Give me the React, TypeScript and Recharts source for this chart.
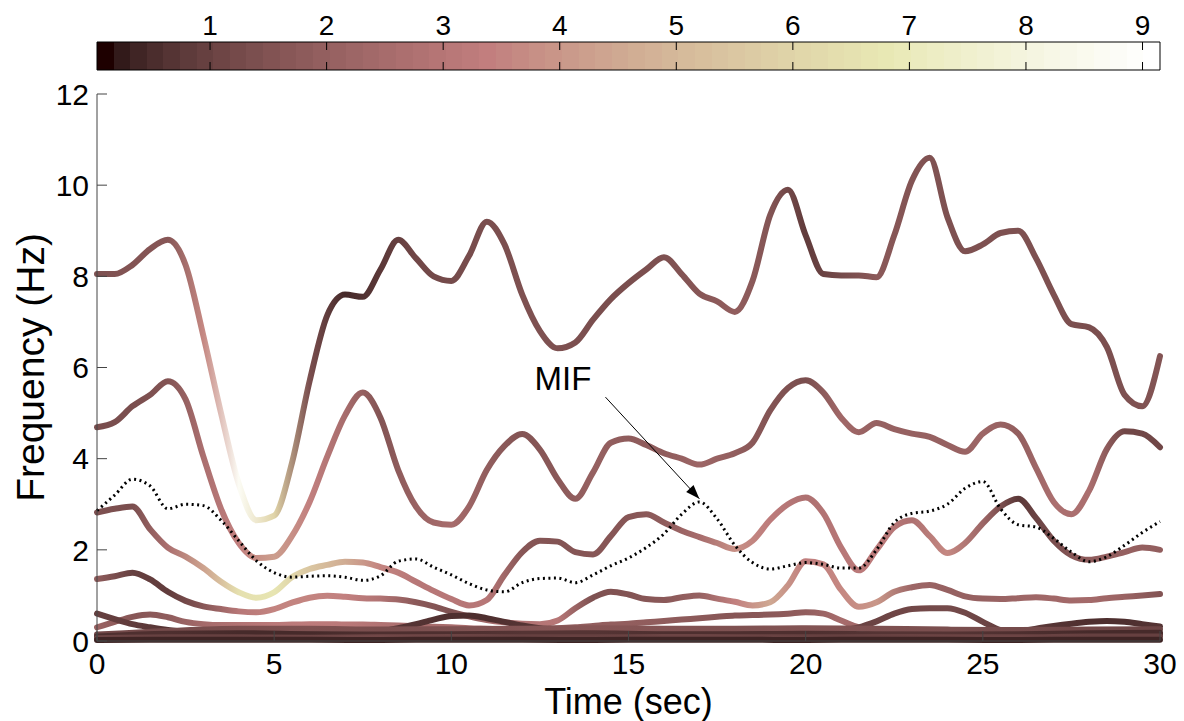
import { LineChart, Line, XAxis, YAxis, Label, ReferenceLine, ReferenceDot, BarChart, Bar } from "recharts";

const FONT = '"Liberation Sans", Arial, Helvetica, sans-serif';

// colour limits of the amplitude colour bar
const C_MIN = 0.03;
const C_MAX = 9.15;

// time axis (sec)
const times = [
  0, 0.5, 1, 1.5, 2, 2.5, 3, 3.5, 4, 4.5, 5, 5.5, 6, 6.5, 7, 7.5, 8, 8.5, 9, 9.5,
  10, 10.5, 11, 11.5, 12, 12.5, 13, 13.5, 14, 14.5, 15, 15.5, 16, 16.5, 17, 17.5, 18, 18.5, 19, 19.5,
  20, 20.5, 21, 21.5, 22, 22.5, 23, 23.5, 24, 24.5, 25, 25.5, 26, 26.5, 27, 27.5, 28, 28.5, 29, 29.5, 30,
];
const ampTimes = [0, 1, 2, 3, 4, 5, 6, 7, 8, 9, 10, 11, 12, 13, 14, 15, 16, 17, 18, 19, 20, 21, 22, 23, 24, 25, 26, 27, 28, 29, 30];
const lowTimes = [0, 2, 4, 6, 8, 10, 12, 14, 16, 18, 20, 22, 24, 26, 28, 30];

// instantaneous frequency of each component (Hz)
const freq1 = [
  8.05, 8.05, 8.25, 8.6, 8.8, 8.25, 6.7, 5.0, 3.45, 2.65, 2.75, 3.9, 5.7, 7.15, 7.6, 7.55, 8.15, 8.8, 8.4, 8.0,
  7.9, 8.45, 9.2, 8.7, 7.6, 6.8, 6.42, 6.55, 7.05, 7.5, 7.85, 8.15, 8.42, 8.05, 7.62, 7.45, 7.22, 7.9, 9.35, 9.9,
  8.9, 8.05, 8.02, 8.02, 7.98, 8.9, 10.1, 10.6, 9.3, 8.55, 8.7, 8.95, 9.0, 8.4, 7.6, 6.95, 6.88, 6.45, 5.4, 5.15, 6.25,
];
const freq2 = [
  4.69, 4.8, 5.15, 5.4, 5.7, 5.3, 4.05, 2.9, 2.15, 1.82, 1.85, 2.3, 3.05, 4.05, 4.95, 5.45, 4.9, 3.75, 2.95, 2.6,
  2.55, 2.95, 3.75, 4.28, 4.54, 4.2, 3.55, 3.12, 3.7, 4.35, 4.44, 4.3, 4.12, 4.0, 3.87, 4.0, 4.12, 4.35, 5.06, 5.55,
  5.72, 5.45, 4.9, 4.58, 4.78, 4.65, 4.55, 4.48, 4.3, 4.15, 4.55, 4.75, 4.55, 3.8, 3.05, 2.78, 3.3, 4.21, 4.6, 4.55, 4.25,
];
const freq3 = [
  2.82, 2.9, 2.95, 2.45, 2.05, 1.85, 1.6, 1.3, 1.07, 0.95, 1.07, 1.4, 1.58, 1.67, 1.74, 1.72, 1.62, 1.5, 1.3, 1.1,
  0.92, 0.78, 0.9, 1.45, 1.95, 2.2, 2.18, 1.95, 1.9, 2.3, 2.72, 2.78, 2.6, 2.42, 2.28, 2.15, 2.02, 2.2, 2.66, 3.0,
  3.15, 2.8, 2.05, 1.55, 2.0, 2.5, 2.65, 2.3, 1.93, 2.15, 2.58, 2.95, 3.12, 2.7, 2.2, 1.88, 1.78, 1.85, 1.95, 2.05, 2.0,
];
const freq4 = [
  1.36, 1.42, 1.5, 1.35, 1.08, 0.88, 0.76, 0.7, 0.65, 0.63, 0.7, 0.84, 0.95, 0.99, 0.97, 0.94, 0.93, 0.91, 0.85, 0.76,
  0.64, 0.54, 0.46, 0.41, 0.38, 0.37, 0.45, 0.72, 0.95, 1.08, 1.02, 0.92, 0.9, 0.96, 1.0, 0.93, 0.86, 0.78, 0.85, 1.22,
  1.75, 1.68, 1.12, 0.75, 0.85, 1.08, 1.18, 1.23, 1.12, 0.98, 0.93, 0.92, 0.94, 0.96, 0.93, 0.89, 0.9, 0.94, 0.97, 1.0, 1.03,
];
const freq5 = [
  0.6, 0.48, 0.37, 0.3, 0.24, 0.2, 0.18, 0.17, 0.17, 0.16, 0.16, 0.16, 0.16, 0.16, 0.17, 0.18, 0.21, 0.28, 0.37, 0.47,
  0.55, 0.56, 0.5, 0.42, 0.34, 0.28, 0.24, 0.21, 0.2, 0.2, 0.2, 0.2, 0.2, 0.21, 0.21, 0.21, 0.22, 0.22, 0.22, 0.22,
  0.22, 0.22, 0.24, 0.3, 0.43, 0.6, 0.7, 0.72, 0.72, 0.62, 0.42, 0.24, 0.16, 0.14, 0.14, 0.14, 0.14, 0.15, 0.15, 0.15, 0.15,
];
const freq6 = [
  0.3, 0.42, 0.53, 0.58, 0.52, 0.42, 0.37, 0.35, 0.35, 0.35, 0.35, 0.36, 0.37, 0.37, 0.36, 0.36, 0.35, 0.34, 0.33, 0.31,
  0.3, 0.28, 0.27, 0.26, 0.26, 0.27, 0.28, 0.3, 0.33, 0.36, 0.38, 0.41, 0.44, 0.47, 0.5, 0.53, 0.56, 0.57, 0.58, 0.6,
  0.63, 0.6, 0.45, 0.3, 0.24, 0.22, 0.22, 0.23, 0.22, 0.2, 0.2, 0.2, 0.22, 0.27, 0.33, 0.38, 0.42, 0.44, 0.42, 0.37, 0.32,
];
const freq7 = [0.14, 0.22, 0.27, 0.27, 0.25, 0.26, 0.27, 0.28, 0.27, 0.27, 0.28, 0.27, 0.25, 0.24, 0.25, 0.26];
const freq8 = [0.1, 0.16, 0.17, 0.15, 0.14, 0.15, 0.16, 0.17, 0.15, 0.15, 0.16, 0.15, 0.14, 0.15, 0.17, 0.18];
const freq9 = [0.06, 0.08, 0.08, 0.07, 0.08, 0.09, 0.08, 0.08, 0.09, 0.08, 0.08, 0.09, 0.08, 0.08, 0.1, 0.1];
const freq10 = [0.02, 0.03, 0.03, 0.03, 0.02, 0.03, 0.03, 0.02, 0.03, 0.03, 0.02, 0.03, 0.03, 0.02, 0.03, 0.03];

// mean instantaneous frequency (dotted)
const mif = [
  2.86, 3.2, 3.55, 3.4, 2.9, 3.0, 2.97, 2.65, 2.2, 1.76, 1.5, 1.4, 1.42, 1.43, 1.4, 1.33, 1.43, 1.75, 1.8, 1.62,
  1.45, 1.26, 1.12, 1.08, 1.28, 1.37, 1.38, 1.28, 1.45, 1.65, 1.82, 2.05, 2.35, 2.78, 3.05, 2.68, 2.1, 1.72, 1.58, 1.65,
  1.72, 1.68, 1.6, 1.6, 2.0, 2.6, 2.8, 2.85, 3.0, 3.35, 3.5, 2.9, 2.55, 2.5, 2.25, 1.95, 1.74, 1.85, 2.1, 2.38, 2.62,
];

// amplitude along each component (drives the line colour)
const amp1 = [1.4, 1.5, 1.6, 3.6, 8.8, 6.0, 1.3, 0.4, 0.7, 1.1, 1.2, 1.3, 1.4, 1.4, 1.3, 1.3, 1.4, 1.6, 1.9, 1.5, 0.8, 1.2, 1.7, 1.5, 1.4, 1.4, 1.4, 1.4, 1.3, 1.4, 1.5];
const amp2 = [1.3, 1.3, 1.5, 2.6, 3.4, 4.2, 3.4, 2.5, 1.5, 2.1, 2.5, 1.9, 1.5, 1.7, 2.0, 1.8, 1.8, 2.2, 1.9, 1.5, 1.3, 2.3, 2.0, 2.0, 2.0, 2.2, 1.9, 2.6, 2.6, 1.1, 1.1];
const amp3 = [1.4, 1.3, 2.6, 4.3, 6.5, 6.7, 5.5, 4.6, 3.5, 3.0, 3.0, 3.0, 1.6, 1.5, 1.6, 1.6, 1.8, 2.5, 3.8, 3.2, 2.7, 3.0, 3.2, 2.7, 3.6, 2.2, 0.7, 1.3, 1.8, 2.0, 1.9];
const amp4 = [1.8, 0.9, 0.8, 1.6, 3.0, 3.5, 3.5, 3.4, 2.8, 1.7, 1.4, 2.3, 2.8, 3.0, 1.4, 1.5, 1.7, 2.0, 3.4, 4.5, 3.3, 3.6, 4.0, 2.2, 2.0, 2.0, 2.2, 2.3, 2.4, 2.1, 1.5];
const amp5 = [0.9, 0.8, 0.6, 0.5, 0.5, 0.5, 0.5, 0.5, 0.6, 0.6, 0.5, 0.5, 0.6, 0.7, 0.8, 0.8, 0.8, 0.8, 0.8, 0.8, 0.8, 0.9, 1.0, 1.1, 1.2, 1.0, 0.8, 0.7, 0.6, 0.6, 0.6];
const amp6 = [2.1, 1.6, 1.8, 2.4, 2.8, 3.1, 3.2, 3.1, 2.8, 2.5, 2.5, 2.5, 2.3, 2.0, 1.9, 1.9, 1.8, 1.7, 1.6, 1.7, 1.9, 2.5, 2.1, 1.7, 1.5, 1.3, 0.9, 0.6, 0.5, 0.5, 0.6];
const amp7 = [1.1, 1.2, 1.3, 1.4, 1.3, 1.4, 1.5, 1.6, 1.5, 1.4, 1.5, 1.4, 1.3, 1.2, 1.1, 1.0];
const amp8 = [0.5, 0.5, 0.4, 0.4, 0.5, 0.5, 0.6, 0.6, 0.5, 0.5, 0.5, 0.6, 0.6, 0.5, 0.4, 0.4];
const amp9 = [1.0, 0.9, 0.9, 1.0, 1.1, 1.0, 0.9, 0.9, 1.0, 1.0, 0.9, 0.9, 1.0, 1.0, 0.9, 0.9];
const amp10 = [0.3, 0.3, 0.3, 0.3, 0.3, 0.3, 0.3, 0.3, 0.3, 0.3, 0.3, 0.3, 0.3, 0.3, 0.3, 0.3];

const xTicks = [0, 5, 10, 15, 20, 25, 30];
const yTicks = [0, 2, 4, 6, 8, 10, 12];
const barTicks = [1, 2, 3, 4, 5, 6, 7, 8, 9];

// annotation (data units)
const mifLabelAt = { x: 12.35, y: 5.5 };
const mifArrow = [{ x: 14.35, y: 5.35 }, { x: 17.0, y: 3.12 }];

// MATLAB "pink" colormap, level in [1, 64]
function pinkAt(level: number) {
  const clamp = (v: number) => Math.max(0, Math.min(1, v));
  const gray = (level - 1) / 63;
  const hot = [clamp(level / 24), clamp((level - 24) / 24), clamp((level - 48) / 16)];
  const ch = (h: number) => Math.round(255 * Math.sqrt((2 * gray + h) / 3));
  return `rgb(${ch(hot[0])},${ch(hot[1])},${ch(hot[2])})`;
}
const ampColor = (a: number) =>
  pinkAt(1 + 63 * Math.max(0, Math.min(1, (a - C_MIN) / (C_MAX - C_MIN))));

const components = [
  { key: "c1", at: times, f: freq1, aAt: ampTimes, amp: amp1 },
  { key: "c2", at: times, f: freq2, aAt: ampTimes, amp: amp2 },
  { key: "c3", at: times, f: freq3, aAt: ampTimes, amp: amp3 },
  { key: "c4", at: times, f: freq4, aAt: ampTimes, amp: amp4 },
  { key: "c6", at: times, f: freq6, aAt: ampTimes, amp: amp6 },
  { key: "c5", at: times, f: freq5, aAt: ampTimes, amp: amp5 },
  { key: "c7", at: lowTimes, f: freq7, aAt: lowTimes, amp: amp7 },
  { key: "c8", at: lowTimes, f: freq8, aAt: lowTimes, amp: amp8 },
  { key: "c9", at: lowTimes, f: freq9, aAt: lowTimes, amp: amp9 },
  { key: "c10", at: lowTimes, f: freq10, aAt: lowTimes, amp: amp10 },
];

const mifData = times.map((t, i) => ({ t, f: mif[i] }));

const YTick = (p: any) => (
  <g>
    <line x1={p.x + 8} x2={p.x + 18} y1={p.y} y2={p.y} stroke="#444" />
    <text x={p.x} y={p.y} dy="0.36em" textAnchor="end" fontSize={30} fontFamily={FONT} fill="#000">
      {p.payload.value}
    </text>
  </g>
);

const XTick = (p: any) => (
  <g>
    <line x1={p.x} x2={p.x} y1={p.y} y2={p.y - 10} stroke="#444" />
    <text x={p.x} y={p.y + 33} textAnchor="middle" fontSize={30} fontFamily={FONT} fill="#000">
      {p.payload.value}
    </text>
  </g>
);

const BarTick = (p: any) => (
  <g>
    <line x1={p.x} x2={p.x} y1={p.y} y2={p.y + 8} stroke="#000" />
    <line x1={p.x} x2={p.x} y1={p.y + 28} y2={p.y + 20} stroke="#000" />
    <text x={p.x} y={p.y - 7} textAnchor="middle" fontSize={28} fontFamily={FONT} fill="#000">
      {p.payload.value}
    </text>
  </g>
);

const Arrow = (p: any) => {
  const { x1, y1, x2, y2 } = p;
  const a = Math.atan2(y2 - y1, x2 - x1);
  const bx = x2 - 14 * Math.cos(a);
  const by = y2 - 14 * Math.sin(a);
  const pts = [
    [x2, y2],
    [bx - 5 * Math.sin(a), by + 5 * Math.cos(a)],
    [bx + 5 * Math.sin(a), by - 5 * Math.cos(a)],
  ];
  return (
    <g>
      <line x1={x1} y1={y1} x2={x2} y2={y2} stroke="#000" strokeWidth={1} />
      <polygon points={pts.map((q) => q.join(",")).join(" ")} fill="#000" />
    </g>
  );
};

const ColorBar = () => (
  <BarChart
    width={1184}
    height={71}
    layout="vertical"
    data={[{ name: "amp", range: [C_MIN, C_MAX] }]}
    margin={{ top: 0, right: 24, bottom: 1, left: 97 }}
    barCategoryGap={0}
  >
    <defs>
      <linearGradient id="cbar" x1="0" y1="0" x2="1" y2="0">
        {Array.from({ length: 64 }, (_, i) => i + 1).flatMap((lv) => [
          <stop key={`a${lv}`} offset={(lv - 1) / 64} stopColor={pinkAt(lv)} />,
          <stop key={`b${lv}`} offset={lv / 64} stopColor={pinkAt(lv)} />,
        ])}
      </linearGradient>
    </defs>
    <XAxis
      type="number"
      orientation="top"
      height={42}
      domain={[C_MIN, C_MAX]}
      ticks={barTicks}
      interval={0}
      tickSize={0}
      tickMargin={0}
      axisLine={false}
      tick={BarTick}
    />
    <YAxis type="category" dataKey="name" hide />
    <Bar dataKey="range" fill="url(#cbar)" stroke="#000" strokeWidth={1} isAnimationActive={false} />
  </BarChart>
);

export default function App() {
  return (
    <div style={{ position: "absolute", left: 0, top: 0, width: 1184, height: 721, background: "#fff" }}>
      <div style={{ position: "absolute", left: 0, top: 0 }}>
        <LineChart width={1184} height={721} margin={{ top: 94, right: 24, bottom: 0, left: 0 }}>
          <defs>
            {components.map((c) => (
              <linearGradient key={c.key} id={`g-${c.key}`} x1="0" y1="0" x2="1" y2="0">
                {c.aAt.map((t, i) => (
                  <stop key={i} offset={t / 30} stopColor={ampColor(c.amp[i])} />
                ))}
              </linearGradient>
            ))}
          </defs>
          <XAxis
            type="number"
            dataKey="t"
            domain={[0, 30]}
            ticks={xTicks}
            interval={0}
            height={80}
            tickSize={0}
            tickMargin={0}
            tick={XTick}
            axisLine={{ stroke: "#444" }}
          >
            <Label
              content={(p: any) => (
                <text
                  x={p.viewBox.x + p.viewBox.width / 2}
                  y={p.viewBox.y + 73}
                  textAnchor="middle"
                  fontSize={36}
                  fontFamily={FONT}
                  fill="#000"
                >
                  Time (sec)
                </text>
              )}
            />
          </XAxis>
          <YAxis
            type="number"
            domain={[0, 12]}
            ticks={yTicks}
            interval={0}
            width={97}
            tickSize={0}
            tickMargin={8}
            tick={YTick}
            axisLine={{ stroke: "#444" }}
          >
            <Label
              content={(p: any) => (
                <text
                  transform={`translate(44, ${p.viewBox.y + p.viewBox.height / 2}) rotate(-90)`}
                  textAnchor="middle"
                  fontSize={39}
                  fontFamily={FONT}
                  fill="#000"
                >
                  Frequency (Hz)
                </text>
              )}
            />
          </YAxis>
          {components.map((c) => (
            <Line
              key={c.key}
              data={c.at.map((t, i) => ({ t, f: c.f[i] }))}
              dataKey="f"
              type="monotone"
              stroke={`url(#g-${c.key})`}
              strokeWidth={6}
              strokeLinecap="round"
              strokeLinejoin="round"
              dot={false}
              activeDot={false}
              isAnimationActive={false}
            />
          ))}
          <Line
            data={mifData}
            dataKey="f"
            type="monotone"
            stroke="#000"
            strokeWidth={3}
            strokeDasharray="2 3.5"
            dot={false}
            activeDot={false}
            isAnimationActive={false}
          />
          <ReferenceLine segment={mifArrow} shape={Arrow} ifOverflow="visible" />
          <ReferenceDot
            x={mifLabelAt.x}
            y={mifLabelAt.y}
            r={0}
            ifOverflow="visible"
            shape={(p: any) => (
              <text x={p.cx} y={p.cy} fontSize={33} fontFamily={FONT} fill="#000">
                MIF
              </text>
            )}
          />
        </LineChart>
      </div>
      <div style={{ position: "absolute", left: 0, top: 0 }}>
        <ColorBar />
      </div>
    </div>
  );
}
